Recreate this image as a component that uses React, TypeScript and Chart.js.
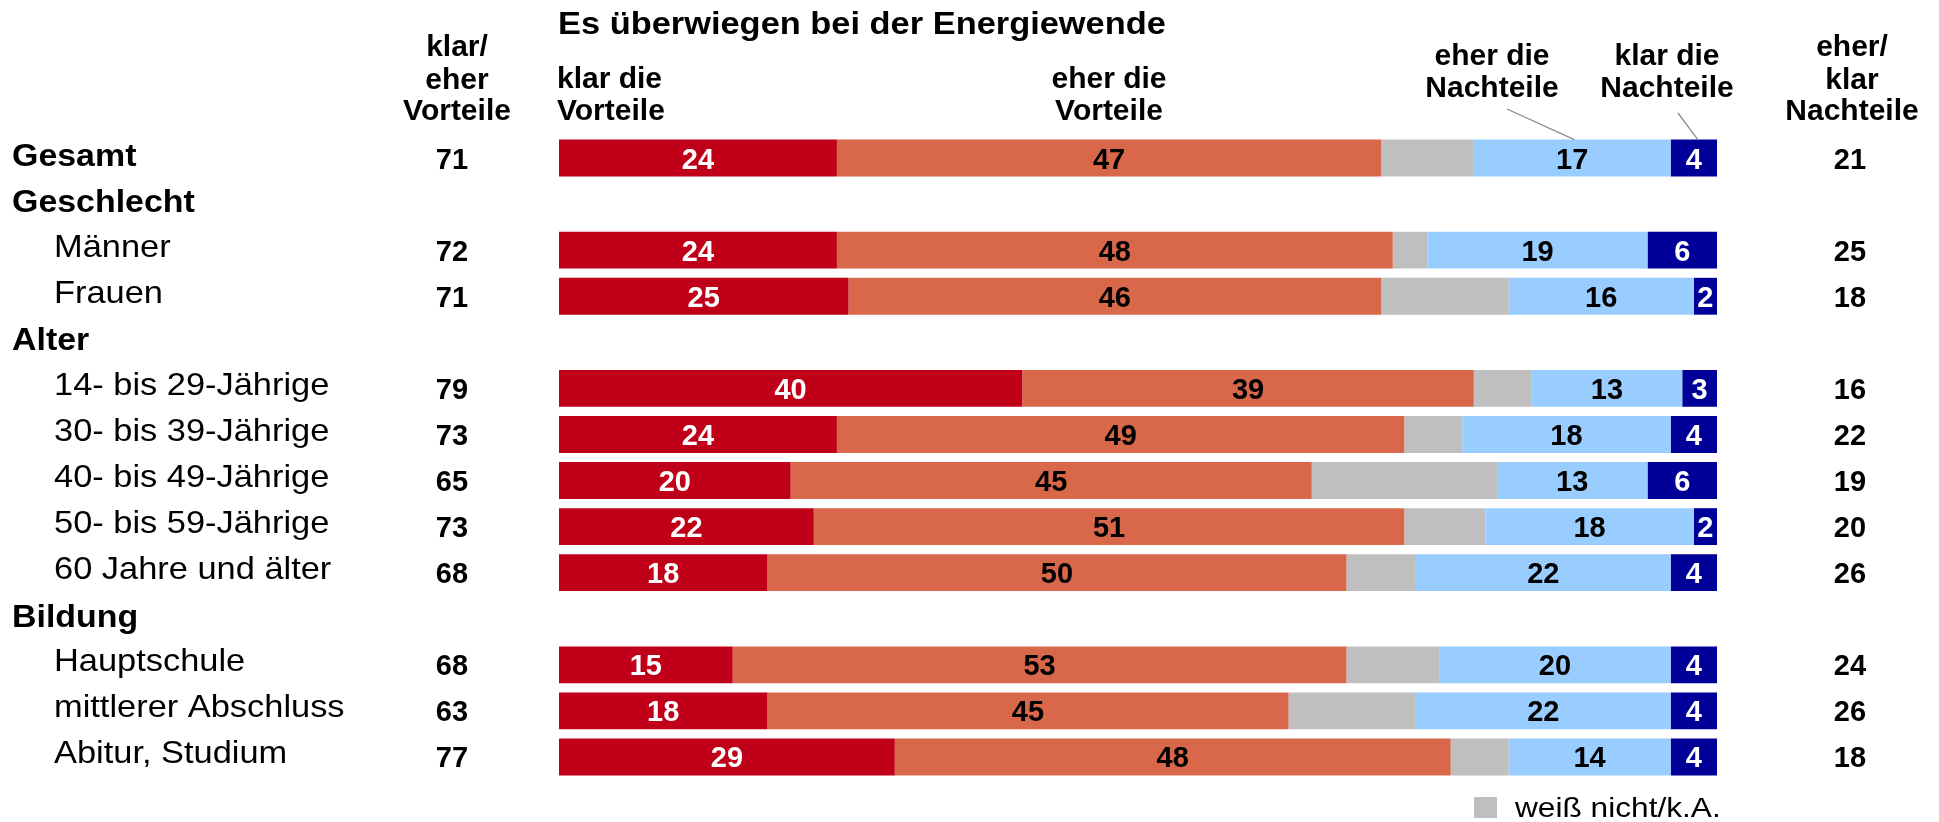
import React, { useEffect, useRef } from "react";
import { Chart, registerables } from "chart.js";

Chart.register(...registerables);

const rowLabels = [
  "Gesamt",
  "Geschlecht",
  "Männer",
  "Frauen",
  "Alter",
  "14- bis 29-Jährige",
  "30- bis 39-Jährige",
  "40- bis 49-Jährige",
  "50- bis 59-Jährige",
  "60 Jahre und älter",
  "Bildung",
  "Hauptschule",
  "mittlerer Abschluss",
  "Abitur, Studium",
];
// 0 = bold group heading, 1 = indented sub row
const rowLevel = [0, 0, 1, 1, 0, 1, 1, 1, 1, 1, 0, 1, 1, 1];

const klarVorteile = [24, null, 24, 25, null, 40, 24, 20, 22, 18, null, 15, 18, 29];
const eherVorteile = [47, null, 48, 46, null, 39, 49, 45, 51, 50, null, 53, 45, 48];
const weissNicht = [8, null, 3, 11, null, 5, 5, 16, 7, 6, null, 8, 11, 5];
const eherNachteile = [17, null, 19, 16, null, 13, 18, 13, 18, 22, null, 20, 22, 14];
const klarNachteile = [4, null, 6, 2, null, 3, 4, 6, 2, 4, null, 4, 4, 4];
const sumVorteile = [71, null, 72, 71, null, 79, 73, 65, 73, 68, null, 68, 63, 77];
const sumNachteile = [21, null, 25, 18, null, 16, 22, 19, 20, 26, null, 24, 26, 18];

const seriesNames = ["klar die Vorteile", "eher die Vorteile", "weiß nicht/k.A.", "eher die Nachteile", "klar die Nachteile"];
const seriesColors = ["#C00018", "#D9674A", "#BFBFBF", "#99CCFF", "#000099"];
const valueColors = ["#FFFFFF", "#000000", null, "#000000", "#FFFFFF"];

const titleText = "Es überwiegen bei der Energiewende";
const legendText = "weiß nicht/k.A.";

const FONT = "'Liberation Sans', Arial, 'DejaVu Sans', sans-serif";

function drawText(ctx: CanvasRenderingContext2D, text: string, x: number, y: number, font: string, align: CanvasTextAlign, sx: number, color: string) {
  ctx.save();
  ctx.font = font;
  ctx.fillStyle = color;
  ctx.textAlign = align;
  ctx.textBaseline = "alphabetic";
  ctx.translate(x, y);
  ctx.scale(sx, 1);
  ctx.fillText(text, 0, 0);
  ctx.restore();
}

const textPlugin = {
  id: "textPlugin",
  afterDatasetsDraw(chart: any) {
    const ctx: CanvasRenderingContext2D = chart.ctx;
    const yScale = chart.scales.y;
    const numFont = `bold 29px ${FONT}`;

    // values inside bars
    chart.data.datasets.forEach((ds: any, di: number) => {
      const col = valueColors[di];
      if (!col) return;
      const meta = chart.getDatasetMeta(di);
      meta.data.forEach((el: any, i: number) => {
        const v = ds.data[i];
        if (v == null) return;
        const p = el.getProps(["x", "base", "y"], true);
        drawText(ctx, String(v), (p.x + p.base) / 2, p.y + 10.5, numFont, "center", 1, col);
      });
    });

    // row labels and side numbers
    rowLabels.forEach((lab, i) => {
      const cy = yScale.getPixelForValue(i);
      if (rowLevel[i] === 0) {
        drawText(ctx, lab, 12, cy + 8, `bold 32px ${FONT}`, "left", 1.06, "#000");
      } else {
        drawText(ctx, lab, 54, cy + 6.5, `32px ${FONT}`, "left", 1.075, "#000");
      }
      if (sumVorteile[i] != null) drawText(ctx, String(sumVorteile[i]), 452, cy + 10.5, numFont, "center", 1, "#000");
      if (sumNachteile[i] != null) drawText(ctx, String(sumNachteile[i]), 1850, cy + 10.5, numFont, "center", 1, "#000");
    });

    // title
    drawText(ctx, titleText, 558, 34, `bold 32px ${FONT}`, "left", 1.075, "#000");

    // column headers
    const hf = `bold 30px ${FONT}`;
    const hdr = (lines: string[], x: number, baselines: number[], align: CanvasTextAlign) =>
      lines.forEach((t, k) => drawText(ctx, t, x, baselines[k], hf, align, 1, "#000"));
    hdr(["klar/", "eher", "Vorteile"], 457, [56, 89, 120], "center");
    hdr(["klar die", "Vorteile"], 557, [88, 120], "left");
    hdr(["eher die", "Vorteile"], 1109, [88, 120], "center");
    hdr(["eher die", "Nachteile"], 1492, [65, 97], "center");
    hdr(["klar die", "Nachteile"], 1667, [65, 97], "center");
    hdr(["eher/", "klar", "Nachteile"], 1852, [56, 89, 120], "center");

    // leader lines to the Gesamt bar segments
    const m3 = chart.getDatasetMeta(3).data[0].getProps(["x", "base", "y", "height"], true);
    const m4 = chart.getDatasetMeta(4).data[0].getProps(["x", "base", "y", "height"], true);
    ctx.save();
    ctx.strokeStyle = "#8C8C8C";
    ctx.lineWidth = 1.3;
    ctx.beginPath();
    ctx.moveTo(1507, 109);
    ctx.lineTo((m3.x + m3.base) / 2 + 2, m3.y - m3.height / 2);
    ctx.moveTo(1678, 113);
    ctx.lineTo((m4.x + m4.base) / 2 + 4, m4.y - m4.height / 2);
    ctx.stroke();
    ctx.restore();

    // legend for the gray segment
    ctx.save();
    ctx.fillStyle = seriesColors[2];
    ctx.fillRect(1474, 797, 23, 21);
    ctx.restore();
    drawText(ctx, legendText, 1515, 817, `28px ${FONT}`, "left", 1.13, "#000");
  },
};

export default function App() {
  const ref = useRef<HTMLCanvasElement | null>(null);
  useEffect(() => {
    if (!ref.current) return;
    const series = [klarVorteile, eherVorteile, weissNicht, eherNachteile, klarNachteile];
    const chart = new Chart(ref.current, {
      type: "bar",
      data: {
        labels: rowLabels,
        datasets: series.map((d, k) => ({
          label: seriesNames[k],
          data: d,
          backgroundColor: seriesColors[k],
          borderWidth: 0,
          categoryPercentage: 0.8,
          barPercentage: 1,
        })),
      },
      options: {
        indexAxis: "y",
        animation: false,
        responsive: false,
        maintainAspectRatio: false,
        layout: { padding: { left: 559, right: 222, top: 135, bottom: 42 } },
        scales: {
          x: { stacked: true, min: 0, max: 100, display: false },
          y: { stacked: true, display: false },
        },
        plugins: {
          legend: { display: false },
          tooltip: { enabled: false },
        },
      },
      plugins: [textPlugin],
    } as any);
    return () => chart.destroy();
  }, []);
  return (
    <div style={{ position: "fixed", left: 0, top: 0, width: 1939, height: 822, background: "#fff" }}>
      <canvas ref={ref} width={1939} height={822} style={{ display: "block" }} />
    </div>
  );
}
